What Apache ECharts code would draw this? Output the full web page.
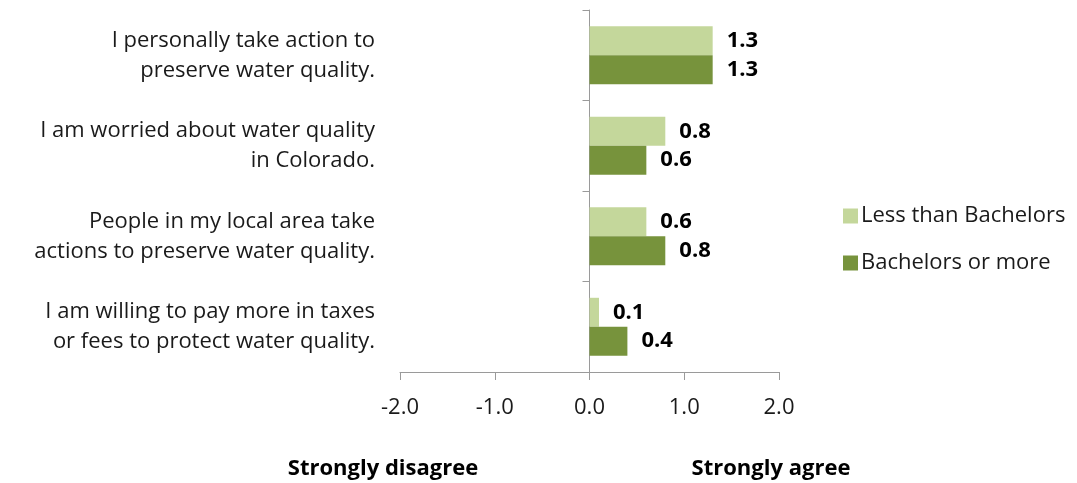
<!DOCTYPE html>
<html><head><meta charset="utf-8">
<script src="https://cdn.jsdelivr.net/npm/echarts@6/dist/echarts.min.js"></script>
<style>html,body{margin:0;padding:0;background:#fff}#c{width:1077px;height:483px}</style>
</head><body><div id="c"></div>
<script>
const categories = [
  "I personally take action to\npreserve water quality.",
  "I am worried about water quality\nin Colorado.",
  "People in my local area take\nactions to preserve water quality.",
  "I am willing to pay more in taxes\nor fees to protect water quality."
];
const seriesNames = ["Less than Bachelors", "Bachelors or more"];
const lessThanBachelors = [1.3, 0.8, 0.6, 0.1];
const bachelorsOrMore = [1.3, 0.6, 0.8, 0.4];
const xTickMin = -2, xTickMax = 2, xTickStep = 1;
const bottomLabels = ["Strongly disagree", "Strongly agree"];

const FONT = "Open Sans";
const chart = echarts.init(document.getElementById('c'), null, {renderer: 'canvas'});
const labelCfg = {show: true, position: 'right', distance: 14, fontFamily: FONT, fontWeight: 'bold', fontSize: 22, color: '#000', formatter: p => p.value.toFixed(1)};
chart.setOption({
  animation: false,
  textStyle: {fontFamily: FONT},
  grid: {left: 400, right: 298, top: 10, bottom: 111, containLabel: false, outerBoundsMode: 'none'},
  legend: {
    orient: 'vertical', left: 838, top: 200, itemWidth: 15, itemHeight: 15, itemGap: 25,
    icon: 'rect',
    textStyle: {fontFamily: FONT, fontSize: 22, color: '#1a1a1a', padding: [0, 0, 0, -2]},
    data: seriesNames
  },
  xAxis: {
    type: 'value', min: xTickMin, max: xTickMax, interval: xTickStep,
    axisLine: {show: true, lineStyle: {color: '#9a9a9a', width: 1}},
    axisTick: {show: true, length: 8, lineStyle: {color: '#9a9a9a'}},
    splitLine: {show: false},
    axisLabel: {fontFamily: FONT, fontSize: 22, color: '#1a1a1a', margin: 25, formatter: v => v.toFixed(1)}
  },
  yAxis: {
    type: 'category', data: categories, inverse: true,
    axisLine: {show: true, onZero: true, lineStyle: {color: '#9a9a9a', width: 1}},
    axisTick: {show: true, length: 7, lineStyle: {color: '#9a9a9a'}},
    axisLabel: {fontFamily: FONT, fontSize: 22, color: '#1a1a1a', margin: 25, lineHeight: 30, align: 'right'}
  },
  series: [
    {name: seriesNames[0], type: 'bar', data: lessThanBachelors, itemStyle: {color: '#C4D79B'}, barGap: '0%', barCategoryGap: '36%', label: labelCfg},
    {name: seriesNames[1], type: 'bar', data: bachelorsOrMore, itemStyle: {color: '#77933C'}, barGap: '0%', barCategoryGap: '36%', label: labelCfg}
  ],
  title: [
    {text: bottomLabels[0], left: 378, top: 453, textAlign: 'center', textStyle: {fontFamily: FONT, fontSize: 22, fontWeight: 'bold', color: '#000'}},
    {text: bottomLabels[1], left: 766, top: 453, textAlign: 'center', textStyle: {fontFamily: FONT, fontSize: 22, fontWeight: 'bold', color: '#000'}}
  ]
});
</script></body></html>
